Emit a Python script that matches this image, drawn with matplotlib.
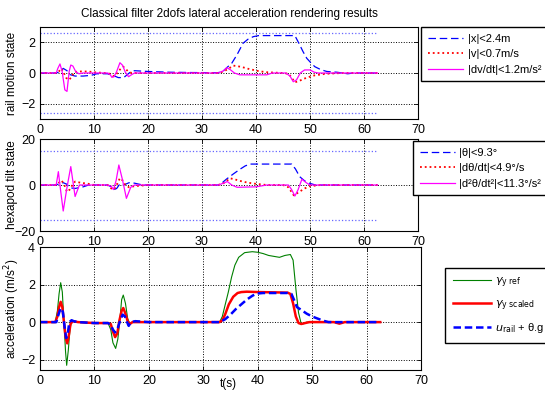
import matplotlib
matplotlib.use("Agg")
import matplotlib.pyplot as plt

plt.rcParams['font.family'] = ['Liberation Sans', 'DejaVu Sans']
plt.rcParams['mathtext.fontset'] = 'dejavusans'

T_END = 62.5

# --- rail motion state ---
x_t = [0, 3, 3.8, 4.3, 5, 5.5, 6.5, 8, 9.5, 10.5, 12.5, 13.5, 14.5, 15.5, 16.7, 17.5, 20, 24, 28, 33,
       34, 34.6, 35.5, 36.5, 37.6, 38.5, 39.5, 40.5, 47.2, 48, 48.7, 49.4, 50.2, 50.9, 52, 53.1, 55, 57, 58, 62.5]
x_v = [0, 0, 0.1, 0.3, 0.15, -0.1, -0.2, -0.2, -0.15, -0.05, -0.05, -0.15, -0.3, -0.3, 0.05, 0.15, 0.1, 0.05, 0.03, 0.02,
       0.15, 0.35, 0.63, 1.2, 1.94, 2.2, 2.37, 2.44, 2.44, 1.9, 1.4, 0.96, 0.65, 0.41, 0.22, 0.1, 0.05, -0.05, 0, 0]

v_t = [0, 3, 3.5, 3.9, 4.3, 4.8, 5.3, 5.8, 6.3, 7, 9, 10, 12, 13, 13.5, 14, 14.5, 15, 15.4, 15.8, 16.3, 17, 20,
       33, 34, 35, 35.8, 36.5, 37.5, 38.5, 39.5, 40.5, 42, 45, 46, 46.5, 47.2, 48.1, 49.4, 50.9, 53, 56, 62.5]
v_v = [0, 0, 0.1, 0.3, 0.1, -0.3, -0.45, -0.3, 0.05, 0.1, 0.1, 0.05, 0, -0.05, -0.2, -0.15, 0.1, 0.3, 0.41, 0.3, 0.1, 0, 0,
       0, 0.1, 0.3, 0.48, 0.45, 0.38, 0.28, 0.2, 0.12, 0.05, 0, -0.05, -0.25, -0.61, -0.5, -0.3, -0.15, -0.05, 0, 0]

a_t = [0, 3, 3.3, 3.7, 4.1, 4.6, 5.0, 5.4, 5.7, 6.1, 6.6, 7.2, 8, 12.5, 13, 13.3, 13.7, 14.2, 14.8, 15.3, 15.8,
       16.4, 17, 17.5, 33, 34, 34.6, 35.3, 36, 37, 42, 43, 45.5, 46.3, 46.9, 47.5, 48.2, 49, 50, 50.8, 51.5, 62.5]
a_v = [0, 0, 0.3, 0.59, 0.1, -1.1, -1.2, 0.1, 0.52, 0.45, 0.1, -0.05, 0, 0, -0.1, -0.28, -0.25, 0.1, 0.67, 0.5, 0.05,
       -0.24, -0.1, 0, 0, 0.15, 0.35, 0.2, 0, -0.12, -0.12, 0, 0, -0.2, -0.57, -0.45, 0, 0.2, 0.2, 0.05, 0, 0]

rail_limit = 2.6

# --- hexapod tilt state (deg) ---
th_t = [0, 3, 3.5, 4.3, 5, 5.5, 6.5, 8, 9, 12.5, 13.2, 13.7, 14.2, 14.8, 15.5, 16.5, 17.5, 19,
        33, 33.6, 34.5, 35.8, 37, 38, 38.9, 46.6, 47.3, 48.1, 49, 50, 51, 62.5]
th_v = [0, 0, 0.5, 1.0, 0.3, -1.2, -1.5, -0.8, 0, 0, -0.8, -2.0, -1.5, 0.5, 0, 1.0, 0.8, 0,
        0, 0.7, 2.5, 4.8, 6.8, 8.3, 9.1, 9.1, 7, 3.6, 1.8, 0.7, 0, 0]

dth_t = [0, 3, 3.5, 4, 4.5, 5, 5.5, 6, 6.5, 7.5, 9, 10, 12.5, 13.2, 13.7, 14.3, 14.8, 15.3, 15.8, 16.5, 17.5, 20,
         33, 34, 35.2, 36, 37, 38.5, 40, 42, 45, 46, 47, 48, 49, 50, 52, 62.5]
dth_v = [0, 0, 1.0, 2.0, 0, -3.0, -2.0, 0, 1.5, 1.0, 0.5, 0, 0, -1.5, -2.0, 0.5, 3.0, 2.0, 0, -1.0, -0.5, 0,
         0, 0.8, 2.9, 2.5, 1.8, 1.0, 0.5, 0, 0, -1.0, -4.5, -3.0, -1.5, -0.5, 0, 0]

ddth_t = [0, 3, 3.4, 3.85, 4.3, 5.0, 5.7, 6.5, 7.3, 12.5, 13.2, 13.6, 14.1, 14.6, 15.3, 16.0, 16.8, 17.5,
          33, 34, 34.7, 35.5, 36.5, 40, 42, 46, 46.6, 47.2, 47.8, 48.5, 49.3, 50, 62.5]
ddth_v = [0, 0, 5.8, -3, -11.3, -1, 8, -5, 0, 0, -0.5, -2, 2, 8.7, 2, -5.8, -1, 0,
          0, 0.8, 1.5, 0, -1.0, -0.8, 0, 0, -2, -4.8, -2, 2.5, 1, 0, 0]

tilt_limit = 15

# --- lateral acceleration (m/s^2) ---
ref_t = [0, 2.8, 3.2, 3.5, 3.8, 4.1, 4.4, 4.7, 4.9, 5.2, 5.5, 5.8, 6.2, 7, 10, 12.5, 13, 13.4, 13.9, 14.3, 14.7,
         15.0, 15.3, 15.7, 16.1, 16.5, 17, 20, 33, 33.5, 34, 34.6, 35.2, 35.8, 36.5, 37.6, 39, 40, 41, 42, 43,
         44, 45, 46, 46.5, 47, 47.5, 48, 48.5, 49, 54, 55, 56, 62.5]
ref_v = [0, 0, 0.6, 1.5, 2.1, 1.6, 0, -1.6, -2.3, -1.5, -0.4, 0.1, 0.05, 0, -0.05, -0.05, -0.4, -1.1, -1.4, -0.9, 0.2,
         1.2, 1.44, 1.0, 0.2, -0.1, 0, 0, 0, 0.3, 0.9, 1.6, 2.4, 3.03, 3.45, 3.7, 3.75, 3.72, 3.65, 3.55, 3.5,
         3.45, 3.55, 3.6, 3.3, 1.8, 0.5, -0.1, -0.08, 0, 0, -0.08, 0, 0]

sc_t = [0, 2.8, 3.2, 3.5, 3.8, 4.1, 4.4, 4.7, 5.0, 5.3, 5.6, 6, 7, 10, 12.5, 13, 13.4, 13.8, 14.2, 14.6, 15, 15.3,
        15.7, 16.1, 16.5, 17, 20, 33, 33.5, 34, 34.7, 35.5, 36.3, 37, 38, 40, 44, 45.5, 46, 46.5, 47, 47.5, 48,
        48.7, 49.5, 54, 55, 56, 62.5]
sc_v = [0, 0, 0.3, 0.8, 1.08, 0.8, 0, -0.8, -1.13, -0.7, -0.1, 0.05, 0, -0.05, -0.05, -0.1, -0.5, -0.8, -0.6, 0.1, 0.6, 0.75,
        0.45, 0.05, -0.1, 0, 0, 0, 0.1, 0.4, 0.95, 1.35, 1.55, 1.6, 1.62, 1.6, 1.58, 1.57, 1.5, 1.0, 0.3, -0.05, -0.1,
        -0.05, 0, 0, -0.08, 0, 0]

u_t = [0, 3, 3.4, 3.8, 4.2, 4.5, 4.8, 5.1, 5.4, 5.8, 6.2, 7, 10, 12.5, 13, 13.4, 13.8, 14.3, 14.8, 15.2, 15.6, 16,
       16.3, 16.7, 17.5, 20, 33, 34, 35, 36, 37, 38, 39, 39.8, 41, 45.5, 46.2, 46.8, 47.2, 48, 49, 50, 50.9, 52, 53, 62.5]
u_v = [0, 0, 0.4, 0.75, 0.55, -0.2, -0.85, -0.6, 0, 0.1, 0.05, 0, -0.05, -0.05, -0.15, -0.4, -0.55, -0.3, 0.15, 0.4, 0.3, 0,
       -0.2, 0, 0.05, 0, 0, 0.15, 0.4, 0.7, 0.95, 1.2, 1.4, 1.52, 1.55, 1.55, 1.5, 1.1, 0.8, 0.65, 0.45, 0.3, 0.2, 0.08, 0, 0]

W, H = 545, 394
fig = plt.figure(figsize=(W / 100, H / 100), dpi=100)


def px_axes(left, top, right, bottom):
    return fig.add_axes([left / W, 1 - bottom / H, (right - left) / W, (bottom - top) / H])


def style(ax, ylabel, top, bottom):
    ax.set_xlim(0, 70)
    ax.set_xticks(range(0, 71, 10))
    ax.grid(True, color='black', linestyle=':', linewidth=0.7)
    ax.tick_params(direction='in', top=True, right=True, labelsize=9, length=3, width=0.6)
    for s in ax.spines.values():
        s.set_linewidth(0.8)
    # y label placed by hand so it stays inside the figure
    fig.text(12 / W, 1 - (top + bottom) / 2 / H, ylabel, rotation=90, fontsize=8.5,
             ha='center', va='center')


leg_kw = dict(loc='upper left', fancybox=False, edgecolor='black', framealpha=1,
              fontsize=8, borderaxespad=0)

ax1 = px_axes(40, 27, 418, 119)
ax1.plot(x_t, x_v, color='blue', linestyle=(0, (6, 3)), linewidth=0.9, label='|x|<2.4m')
ax1.plot(v_t, v_v, color='red', linestyle=':', linewidth=1.3, label='|v|<0.7m/s')
ax1.plot(a_t, a_v, color='magenta', linewidth=0.9, label='|dv/dt|<1.2m/s²')
for lim in (rail_limit, -rail_limit):
    ax1.plot([0, T_END], [lim, lim], color='#6666ff', linestyle=':', linewidth=0.9)
ax1.set_ylim(-3, 3)
ax1.set_yticks([-2, 0, 2])
style(ax1, 'rail motion state', 27, 119)
ax1.set_title('Classical filter 2dofs lateral acceleration rendering results', fontsize=8.5, pad=7)
ax1.legend(bbox_to_anchor=(421 / W, 1 - 27 / H), bbox_transform=fig.transFigure,
           handlelength=3.2, handletextpad=0.4, borderpad=0.6, labelspacing=0.5, **leg_kw)

ax2 = px_axes(40, 139, 418, 231)
ax2.plot(th_t, th_v, color='blue', linestyle=(0, (6, 3)), linewidth=0.9, label='|θ|<9.3°')
ax2.plot(dth_t, dth_v, color='red', linestyle=':', linewidth=1.3, label='|dθ/dt|<4.9°/s')
ax2.plot(ddth_t, ddth_v, color='magenta', linewidth=0.9, label='|d²θ/dt²|<11.3°/s²')
for lim in (tilt_limit, -tilt_limit):
    ax2.plot([0, T_END], [lim, lim], color='#6666ff', linestyle=':', linewidth=0.9)
ax2.set_ylim(-20, 20)
ax2.set_yticks([-20, 0, 20])
style(ax2, 'hexapod tilt state', 139, 231)
ax2.legend(bbox_to_anchor=(413 / W, 1 - 141 / H), bbox_transform=fig.transFigure,
           handlelength=3.2, handletextpad=0.3, borderpad=0.6, labelspacing=0.5, **leg_kw)

ax3 = px_axes(40, 247, 421, 370)
ax3.plot(ref_t, ref_v, color='#008000', linewidth=0.8, label=r'$\gamma_{\mathrm{y\ ref}}$')
ax3.plot(sc_t, sc_v, color='red', linewidth=1.8, label=r'$\gamma_{\mathrm{y\ scaled}}$')
ax3.plot(u_t, u_v, color='blue', linestyle=(0, (3, 1.5)), linewidth=1.8, label=r'$u_{\mathrm{rail}}$ + θ.g')
ax3.set_ylim(-2.55, 4)
ax3.set_yticks([-2, 0, 2, 4])
style(ax3, 'acceleration (m/s$^2$)', 247, 370)
ax3.legend(bbox_to_anchor=(445 / W, 1 - 268 / H), bbox_transform=fig.transFigure,
           handlelength=3.4, handletextpad=0.4, labelspacing=0.75, borderpad=0.7, **leg_kw)
fig.text(228 / W, 1 - 384 / H, 't(s)', fontsize=8.5, ha='center', va='center')

fig.savefig('out.png', dpi=100, facecolor='white')
